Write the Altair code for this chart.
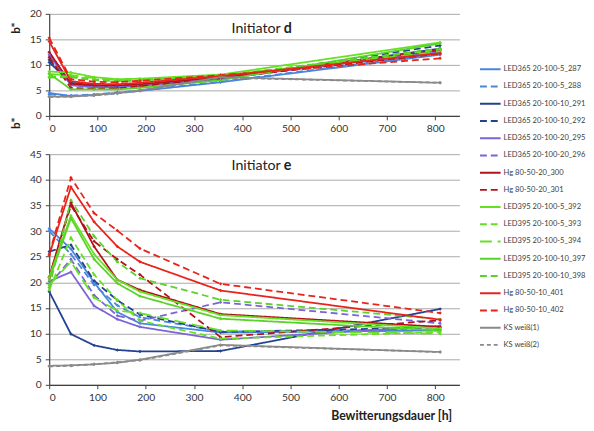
import altair as alt
import pandas as pd

# Exposure times [h]
X_HOURS = [0, 45, 93, 141, 188, 355, 810]

SERIES = [
    "LED365 20-100-5_287", "LED365 20-100-5_288",
    "LED365 20-100-10_291", "LED365 20-100-10_292",
    "LED365 20-100-20_295", "LED365 20-100-20_296",
    "Hg 80-50-20_300", "Hg 80-50-20_301",
    "LED395 20-100-5_392", "LED395 20-100-5_393", "LED395 20-100-5_394",
    "LED395 20-100-10_397", "LED395 20-100-10_398",
    "Hg 80-50-10_401", "Hg 80-50-10_402",
    "KS weiß(1)", "KS weiß(2)",
]
COLORS = [
    "#4a86dc", "#4a86dc",
    "#22418f", "#22418f",
    "#7b64d8", "#7b64d8",
    "#b3121a", "#b3121a",
    "#66e022", "#66e022", "#66e022",
    "#5ad22a", "#5ad22a",
    "#e8231c", "#e8231c",
    "#8a8a8a", "#8a8a8a",
]
DASHES = [
    [1, 0], [7, 4],
    [1, 0], [7, 4],
    [1, 0], [7, 4],
    [1, 0], [7, 4],
    [1, 0], [7, 4], [12, 6],
    [1, 0], [7, 4],
    [1, 0], [7, 4],
    [1, 0], [4, 3],
]

# Initiator d
d_287 = [4.5, 3.9, 4.1, 4.5, 4.9, 6.6, 12.0]
d_288 = [4.2, 4.0, 4.2, 4.6, 5.0, 6.7, 12.2]
d_291 = [10.5, 6.5, 6.0, 5.8, 6.0, 7.2, 13.2]
d_292 = [11.0, 6.3, 5.9, 5.9, 6.1, 7.3, 13.8]
d_295 = [12.0, 6.0, 5.6, 5.6, 5.9, 7.4, 12.5]
d_296 = [12.5, 6.2, 5.8, 5.7, 6.0, 7.5, 12.8]
d_300 = [12.5, 6.3, 6.0, 6.0, 6.2, 7.6, 12.9]
d_301 = [11.5, 5.5, 5.3, 5.4, 5.8, 7.4, 12.2]
d_392 = [8.7, 8.5, 7.6, 7.2, 7.3, 8.1, 14.4]
d_393 = [7.7, 7.8, 7.2, 6.9, 7.0, 7.9, 13.0]
d_394 = [8.2, 8.0, 7.4, 7.0, 7.1, 7.9, 12.6]
d_397 = [8.3, 5.2, 5.2, 5.2, 5.5, 7.0, 14.2]
d_398 = [7.5, 7.6, 7.0, 6.8, 6.9, 7.8, 13.2]
d_401 = [14.6, 6.8, 6.3, 6.2, 6.5, 7.8, 12.3]
d_402 = [15.3, 7.2, 6.7, 6.6, 6.9, 8.0, 11.3]
d_ks1 = [3.8, 3.8, 4.1, 4.5, 5.0, 7.6, 6.5]
d_ks2 = [3.7, 3.8, 4.0, 4.4, 4.9, 7.5, 6.5]

# Initiator e
e_287 = [30.5, 26.5, 20.0, 14.2, 12.0, 10.2, 10.6]
e_288 = [30.0, 25.5, 19.5, 15.5, 13.2, 10.4, 10.8]
e_291 = [18.2, 9.9, 7.7, 6.8, 6.5, 6.6, 14.8]
e_292 = [26.0, 27.3, 20.3, 16.5, 13.7, 10.3, 11.2]
e_295 = [20.2, 22.0, 15.4, 12.8, 11.3, 8.8, 11.5]
e_296 = [19.5, 24.5, 17.5, 13.5, 12.5, 16.1, 12.0]
e_300 = [21.0, 35.5, 27.0, 20.5, 18.5, 13.8, 11.3]
e_301 = [21.0, 35.0, 28.0, 24.5, 21.5, 9.3, 12.6]
e_392 = [21.0, 33.0, 25.5, 20.5, 18.2, 13.6, 11.0]
e_393 = [18.5, 28.7, 21.5, 16.5, 12.5, 9.0, 10.3]
e_394 = [19.5, 24.0, 17.0, 14.5, 14.0, 10.6, 10.0]
e_397 = [20.5, 32.5, 24.5, 19.8, 17.3, 12.9, 10.6]
e_398 = [19.0, 36.0, 29.0, 24.0, 20.8, 16.6, 12.8]
e_401 = [25.3, 38.6, 31.8, 27.0, 24.0, 18.4, 12.7]
e_402 = [25.5, 40.4, 33.5, 30.1, 26.6, 19.7, 14.0]
e_ks1 = [3.7, 3.8, 4.0, 4.3, 4.9, 7.8, 6.4]
e_ks2 = [3.6, 3.7, 4.0, 4.4, 4.8, 7.7, 6.4]

D_LISTS = [d_287, d_288, d_291, d_292, d_295, d_296, d_300, d_301, d_392,
           d_393, d_394, d_397, d_398, d_401, d_402, d_ks1, d_ks2]
E_LISTS = [e_287, e_288, e_291, e_292, e_295, e_296, e_300, e_301, e_392,
           e_393, e_394, e_397, e_398, e_401, e_402, e_ks1, e_ks2]


def to_frame(lists):
    rows = []
    for name, vals in zip(SERIES, lists):
        for xv, yv in zip(X_HOURS, vals):
            rows.append({"series": name, "x": xv, "y": yv})
    return pd.DataFrame(rows)


FONT = "Lato"

legend = alt.Legend(
    title=None, orient="none", legendX=438, legendY=45,
    symbolType="stroke", symbolSize=441, symbolStrokeWidth=2,
    labelFont=FONT, labelFontSize=7.7, labelColor="#404040",
    rowPadding=1.55, labelOffset=2, labelLimit=200,
)


def panel(df, ymax, height, title_y, xtitle, letter, text_y):
    x_axis = alt.Axis(values=list(range(0, 801, 100)), grid=False,
                      title=xtitle, titleFontWeight="bold", titleFontSize=12.5,
                      titleFont=FONT, titleColor="#222", titleAnchor="end",
                      titleAlign="right", titleX=410, titleY=31,
                      titleBaseline="middle", labelPadding=4)
    y_axis = alt.Axis(values=list(range(0, ymax + 1, 5)), title="b*",
                      titleAngle=270, titleX=-34, titleY=title_y,
                      titleFontWeight="bold", titleFontSize=12,
                      titleFont=FONT, titleColor="#222", titleAlign="center",
                      titleBaseline="middle", labelPadding=4)
    lines = alt.Chart(df).mark_line(
        strokeWidth=1.8,
        point=alt.OverlayMarkDef(shape="diamond", size=12, filled=True),
    ).encode(
        x=alt.X("x:Q", scale=alt.Scale(domain=[0, 850], nice=False), axis=x_axis),
        y=alt.Y("y:Q", scale=alt.Scale(domain=[0, ymax], nice=False), axis=y_axis),
        color=alt.Color("series:N", scale=alt.Scale(domain=SERIES, range=COLORS),
                        legend=legend),
        strokeDash=alt.StrokeDash("series:N",
                                  scale=alt.Scale(domain=SERIES, range=DASHES),
                                  legend=legend),
        order="x:Q",
    )
    t1 = alt.Chart(pd.DataFrame({"t": ["Initiator"]})).mark_text(
        align="right", baseline="alphabetic", fontSize=14.5, font=FONT,
        color="#222").encode(text="t:N", x=alt.value(236), y=alt.value(text_y))
    t2 = alt.Chart(pd.DataFrame({"t": [letter]})).mark_text(
        align="left", baseline="alphabetic", fontSize=14.5, font=FONT,
        fontWeight="bold", color="#222").encode(
        text="t:N", x=alt.value(239), y=alt.value(text_y))
    return alt.layer(lines, t1, t2).properties(width=418, height=height)


top = panel(to_frame(D_LISTS), 20, 104, 14, "", "d", 19)
bottom = panel(to_frame(E_LISTS), 45, 235, -32, "Bewitterungsdauer [h]", "e", 16)

chart = alt.VConcatChart(vconcat=[top, bottom], spacing=39, bounds="flush").properties(
    padding={"left": 2, "top": -3, "right": 0, "bottom": 0}
).configure_axis(
    labelFont=FONT, labelFontSize=10.5, labelColor="#333333",
    gridColor="#a8a8a8", gridWidth=1, domainColor="#404040", domainWidth=1.2,
    tickColor="#404040", tickSize=4,
).configure_view(strokeWidth=0)

chart.save("out.html", embed_options={"renderer": "svg", "actions": False})
